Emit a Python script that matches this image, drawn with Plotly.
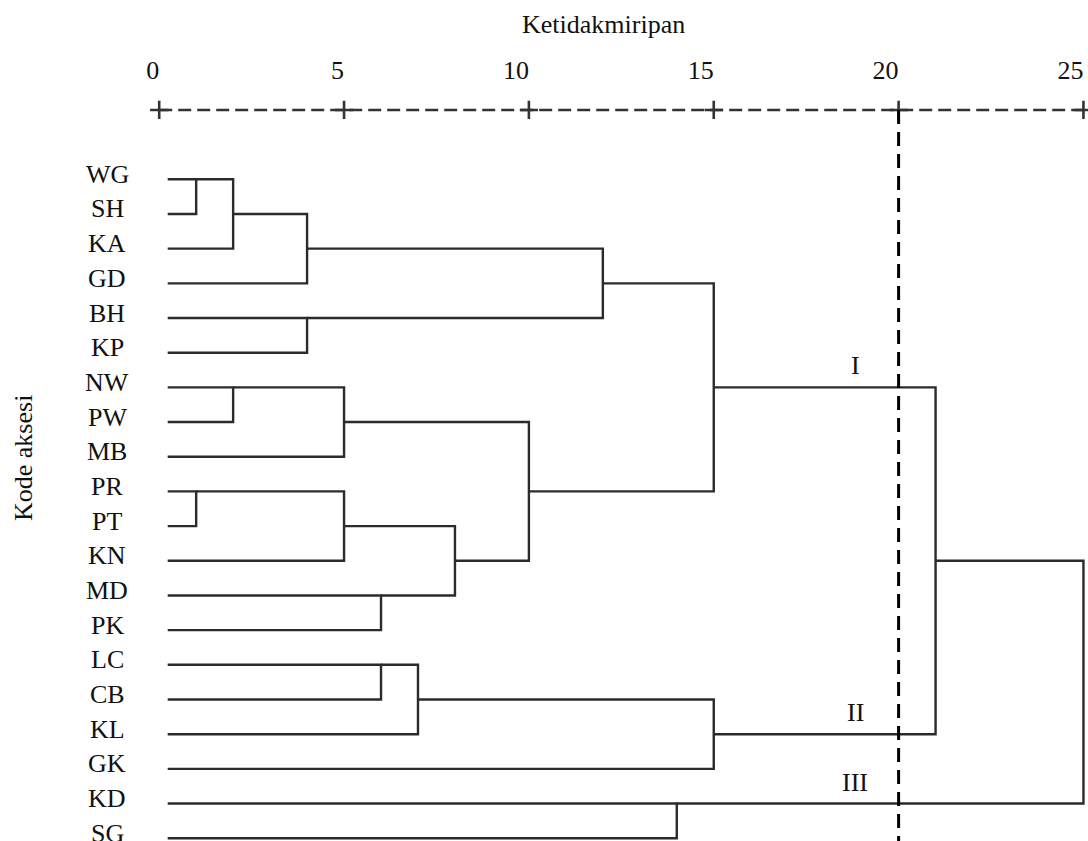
import math
import plotly.graph_objects as go

# ---------------- data ----------------
leaves = ["WG", "SH", "KA", "GD", "BH", "KP", "NW", "PW", "MB", "PR",
          "PT", "KN", "MD", "PK", "LC", "CB", "KL", "GK", "KD", "SG"]
# agglomeration schedule: leaves are 0..19, new clusters are numbered 20, 21, ...
merge_a = [0, 20, 21, 4, 22, 6, 25, 9, 27, 12, 28, 26, 24, 14, 33, 34, 32, 18, 36]
merge_b = [1, 2, 3, 5, 23, 7, 8, 10, 11, 13, 29, 30, 31, 15, 16, 17, 35, 19, 37]
merge_h = [1, 2, 4, 4, 12, 2, 5, 1, 5, 6, 8, 10, 15, 6, 7, 15, 21, 14, 25]
tick_vals = [0, 5, 10, 15, 20, 25]
cut_value = 20
group_names = ["I", "II", "III"]
group_nodes = [32, 35, 37]
x_title = "Ketidakmiripan"
y_title = "Kode aksesi"

# ---------------- style ----------------
FONT = "Liberation Serif, Times New Roman, serif"
TXT = "#111111"
LINE_COLOR = "#2b2b2b"
W, H = 1088, 841
LEAF_X = 0.23
PX_PER_UNIT = 36.97
ZERO_PX = 159.2
X0 = -ZERO_PX / PX_PER_UNIT
X1 = X0 + W / PX_PER_UNIT
ROW_PX = 34.68
ROW0_PX = 179.3
Y_TOP = -ROW0_PX / ROW_PX
Y_BOT = (H - ROW0_PX) / ROW_PX
AXIS_ROW = -2.0


def xval(px):
    return (px - ZERO_PX) / PX_PER_UNIT


def yrow(px):
    return (px - ROW0_PX) / ROW_PX


# ---------------- dendrogram geometry from the schedule ----------------
n = len(leaves)
node_x = {i: LEAF_X for i in range(n)}
node_y = {i: float(i) for i in range(n)}
seg_x, seg_y = [], []
for k, (a, b, h) in enumerate(zip(merge_a, merge_b, merge_h)):
    ya, yb = node_y[a], node_y[b]
    seg_x += [node_x[a], h, h, node_x[b], None]
    seg_y += [ya, ya, yb, yb, None]
    node_x[n + k] = h
    node_y[n + k] = math.floor((ya + yb) / 2)

fig = go.Figure()
fig.add_trace(go.Scatter(x=seg_x, y=seg_y, mode="lines",
                         line=dict(color=LINE_COLOR, width=2.4),
                         hoverinfo="skip"))
# dashed scale line with + marks
fig.add_trace(go.Scatter(x=[tick_vals[0], tick_vals[-1]], y=[AXIS_ROW, AXIS_ROW],
                         mode="lines",
                         line=dict(color="#333333", width=2.6, dash="13px,6px"),
                         hoverinfo="skip"))
fig.add_trace(go.Scatter(x=tick_vals, y=[AXIS_ROW] * len(tick_vals), mode="markers",
                         marker=dict(symbol="cross-thin", size=13,
                                     line=dict(color="#333333", width=2.6)),
                         cliponaxis=False, hoverinfo="skip"))
# cut line
fig.add_trace(go.Scatter(x=[cut_value, cut_value], y=[AXIS_ROW, Y_BOT + 1],
                         mode="lines",
                         line=dict(color="black", width=3, dash="14px,8px"),
                         hoverinfo="skip"))

ann = []
for i, name in enumerate(leaves):
    ann.append(dict(x=xval(107), y=i, xref="x", yref="y",
                    text=name, showarrow=False, xanchor="center", yanchor="middle",
                    yshift=5, font=dict(family=FONT, size=26, color=TXT)))
for name, node in zip(group_names, group_nodes):
    ann.append(dict(x=18.83, y=node_y[node], xref="x", yref="y", text=name,
                    showarrow=False, xanchor="center", yanchor="bottom", yshift=5,
                    font=dict(family=FONT, size=26, color=TXT)))
ann.append(dict(x=xval(603.5), y=yrow(24), xref="x", yref="y", text=x_title,
                showarrow=False, xanchor="center", yanchor="middle",
                font=dict(family=FONT, size=26, color=TXT)))
ann.append(dict(x=xval(23), y=yrow(458), xref="x", yref="y",
                text=y_title, showarrow=False, textangle=-90,
                xanchor="center", yanchor="middle",
                font=dict(family=FONT, size=26, color=TXT)))

axis_pos = (Y_BOT - AXIS_ROW) / (Y_BOT - Y_TOP)
fig.update_layout(
    width=W, height=H,
    margin=dict(l=0, r=0, t=0, b=0),
    paper_bgcolor="white", plot_bgcolor="white",
    showlegend=False,
    hovermode=False,
    annotations=ann,
    xaxis=dict(range=[X0, X1], side="top", anchor="free", position=axis_pos,
               tickvals=tick_vals, ticktext=[str(v) for v in tick_vals],
               ticks="", ticklabelposition="outside left", ticklabelstandoff=26,
               showgrid=False, zeroline=False, showline=False, fixedrange=True,
               tickfont=dict(family=FONT, size=26, color=TXT)),
    yaxis=dict(range=[Y_BOT, Y_TOP], visible=False, showgrid=False, zeroline=False,
               fixedrange=True),
)
fig.write_html(
    "out.html",
    config={"displayModeBar": False, "staticPlot": True},
    post_script=("document.body.style.margin='0';"
                 "document.body.style.overflow='hidden';"
                 "document.documentElement.style.overflow='hidden';"),
)
